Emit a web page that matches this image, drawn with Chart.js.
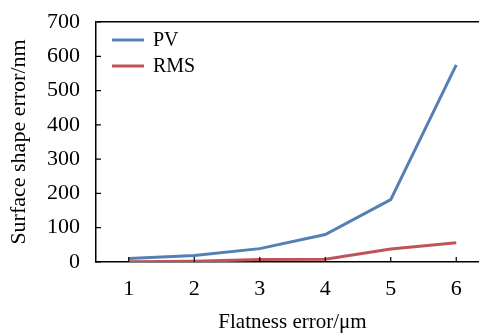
<!DOCTYPE html>
<html>
<head>
  <title>Surface shape error vs flatness error</title>
  <style>
    body {
      margin: 0;
      background-color: #FFF;
      overflow: hidden;
    }

    #wrap {
      width: 479px;
      height: 333px;
      overflow: hidden;
    }
  </style>
</head>
<body>
  <div id="wrap">
    <canvas id="chart" width="500" height="333"></canvas>
  </div>

  <script src="https://cdn.jsdelivr.net/npm/chart.js"></script>

  <script>
    // data
    var flatness = ['1', '2', '3', '4', '5', '6'];
    var pvValues = [10, 19, 39, 80, 182, 575];
    var rmsValues = [1, 2, 7, 8, 38, 56];
    var yTicks = [0, 100, 200, 300, 400, 500, 600, 700];

    var serif = "'Liberation Serif', 'Times New Roman', serif";

    // short tick marks pointing into the plot, like the original
    var innerTicks = {
      id: 'innerTicks',
      afterDraw: function(chart) {
        var ctx = chart.ctx;
        var area = chart.chartArea;
        var x = chart.scales.x;
        var y = chart.scales.y;
        ctx.save();
        ctx.strokeStyle = '#000';
        ctx.lineWidth = 1.2;
        ctx.beginPath();
        for (var i = 0; i < x.ticks.length; i++) {
          var px = x.getPixelForTick(i);
          ctx.moveTo(px, area.bottom);
          ctx.lineTo(px, area.bottom - 5);
        }
        for (var j = 0; j < y.ticks.length; j++) {
          var py = y.getPixelForTick(j);
          ctx.moveTo(area.left, py);
          ctx.lineTo(area.left + 5, py);
        }
        ctx.stroke();
        ctx.restore();
      }
    };

    // legend drawn inside the top left of the plot
    var insideLegend = {
      id: 'insideLegend',
      afterDraw: function(chart) {
        var ctx = chart.ctx;
        var area = chart.chartArea;
        ctx.save();
        ctx.font = '20px ' + serif;
        ctx.textBaseline = 'middle';
        ctx.fillStyle = '#000';
        chart.data.datasets.forEach(function(ds, i) {
          var ly = area.top + 18 + i * 26;
          ctx.strokeStyle = ds.borderColor;
          ctx.lineWidth = 3;
          ctx.beginPath();
          ctx.moveTo(area.left + 16, ly);
          ctx.lineTo(area.left + 48, ly);
          ctx.stroke();
          ctx.fillText(ds.label, area.left + 57, ly + 1);
        });
        ctx.restore();
      }
    };

    var myChart = new Chart(document.getElementById('chart').getContext('2d'), {
      type: 'line',
      data: {
        labels: flatness,
        datasets: [
          {
            label: 'PV',
            data: pvValues,
            borderColor: '#5480B4',
            borderWidth: 3,
            pointRadius: 0,
            tension: 0
          },
          {
            label: 'RMS',
            data: rmsValues,
            borderColor: '#C0535A',
            borderWidth: 3,
            pointRadius: 0,
            tension: 0
          }
        ]
      },
      options: {
        responsive: false,
        animation: false,
        layout: {
          padding: { left: 0, top: 22, right: 11, bottom: 0 }
        },
        plugins: {
          legend: { display: false },
          tooltip: { enabled: false }
        },
        scales: {
          x: {
            offset: true,
            grid: {
              display: true,
              drawOnChartArea: false,
              drawTicks: false,
              offset: false
            },
            border: { color: '#000', width: 1.5 },
            ticks: {
              color: '#000',
              padding: 14,
              font: { family: serif, size: 22 }
            },
            title: {
              display: true,
              text: 'Flatness error/\u03bcm',
              color: '#000',
              padding: { top: 0, bottom: 0 },
              font: { family: serif, size: 21, lineHeight: 1 }
            },
            afterFit: function(scale) { scale.height = 71; }
          },
          y: {
            min: 0,
            max: 700,
            afterBuildTicks: function(scale) {
              scale.ticks = yTicks.map(function(v) { return { value: v }; });
            },
            grid: {
              drawTicks: false,
              lineWidth: 1.5,
              color: function(c) {
                return c.tick && c.tick.value === 700 ? '#000' : 'rgba(0,0,0,0)';
              }
            },
            border: { color: '#000', width: 1.5 },
            ticks: {
              color: '#000',
              padding: 16,
              font: { family: serif, size: 22 }
            },
            title: {
              display: true,
              text: 'Surface shape error/nm',
              color: '#000',
              padding: { top: 8, bottom: 0 },
              font: { family: serif, size: 22, lineHeight: 1 }
            },
            afterFit: function(scale) {
              scale.width = 96;
              scale.paddingTop = 0;
              scale.paddingBottom = 0;
            }
          }
        }
      },
      plugins: [innerTicks, insideLegend]
    });
  </script>
</body>
</html>
